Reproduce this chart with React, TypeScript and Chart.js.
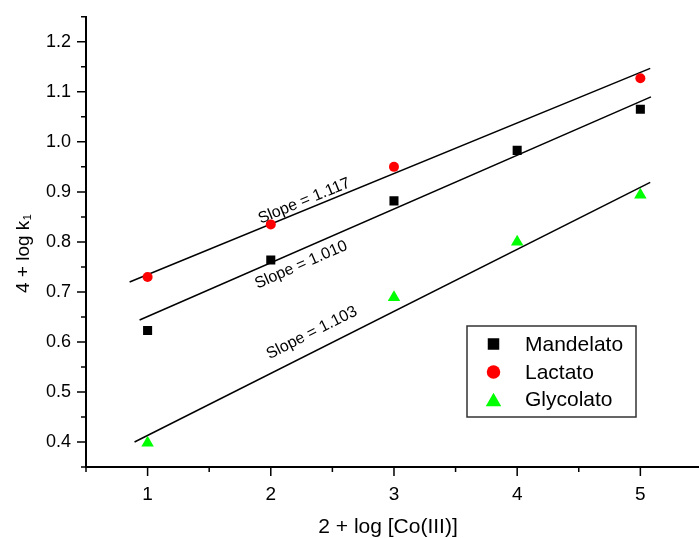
import React, { useEffect, useRef } from "react";
import { Chart, registerables } from "chart.js";

Chart.register(...registerables);

// ---- data ----
const mandelatoX = [1, 2, 3, 4, 5];
const mandelatoY = [0.623, 0.764, 0.882, 0.983, 1.065];
const lactatoX = [1, 2, 3, 5];
const lactatoY = [0.73, 0.835, 0.95, 1.127];
const glycolatoX = [1, 3, 4, 5];
const glycolatoY = [0.398, 0.689, 0.8, 0.894];

const mandelatoFitX = [0.935, 5.086];
const mandelatoFitY = [0.6438, 1.0898];
const lactatoFitX = [0.854, 5.08];
const lactatoFitY = [0.7197, 1.147];
const glycolatoFitX = [0.894, 5.08];
const glycolatoFitY = [0.4, 0.919];

const seriesNames = ["Mandelato", "Lactato", "Glycolato"];
const slopeLabels = ["Slope = 1.117", "Slope = 1.010", "Slope = 1.103"];
const slopeLabelX = [2.272, 2.246, 2.333];
const slopeLabelY = [0.8817, 0.754, 0.618];

const xMajorTicks = [1, 2, 3, 4, 5];
const xMinorTicks = [0.5, 1.5, 2.5, 3.5, 4.5, 5.5];
const yMajorTicks = [0.4, 0.5, 0.6, 0.7, 0.8, 0.9, 1.0, 1.1, 1.2];
const yMinorTicks = [0.35, 0.45, 0.55, 0.65, 0.75, 0.85, 0.95, 1.05, 1.15, 1.25];

const xTitle = "2 + log [Co(III)]";
const yTitleMain = "4 + log k";
const yTitleSub = "1";

const FONT = "'Liberation Sans', Arial, Helvetica, sans-serif";

const zip = (xs: number[], ys: number[]) => xs.map((x, i) => ({ x, y: ys[i] }));

function drawMarker(ctx: CanvasRenderingContext2D, kind: number, x: number, y: number, s: number) {
  ctx.beginPath();
  if (kind === 0) {
    ctx.fillStyle = "#000000";
    ctx.rect(x - s / 2, y - s / 2, s, s);
  } else if (kind === 1) {
    ctx.fillStyle = "#ff0000";
    ctx.arc(x, y, s / 2, 0, Math.PI * 2);
  } else {
    ctx.fillStyle = "#00ff00";
    const h = s * 0.87;
    ctx.moveTo(x, y - h / 2);
    ctx.lineTo(x + s / 2, y + h / 2);
    ctx.lineTo(x - s / 2, y + h / 2);
    ctx.closePath();
  }
  ctx.fill();
}

const extrasPlugin = {
  id: "extras",
  afterDraw(chart: any) {
    const ctx: CanvasRenderingContext2D = chart.ctx;
    const xs = chart.scales.x;
    const ys = chart.scales.y;
    const ca = chart.chartArea;
    ctx.save();
    // ticks
    ctx.strokeStyle = "#000";
    ctx.lineWidth = 1.5;
    ctx.beginPath();
    yMajorTicks.forEach((v) => {
      const p = ys.getPixelForValue(v);
      ctx.moveTo(ca.left - 9, p);
      ctx.lineTo(ca.left, p);
    });
    yMinorTicks.forEach((v) => {
      const p = ys.getPixelForValue(v);
      ctx.moveTo(ca.left - 5, p);
      ctx.lineTo(ca.left, p);
    });
    xMajorTicks.forEach((v) => {
      const p = xs.getPixelForValue(v);
      ctx.moveTo(p, ca.bottom);
      ctx.lineTo(p, ca.bottom + 9);
    });
    xMinorTicks.forEach((v) => {
      const p = xs.getPixelForValue(v);
      if (p <= ca.right + 1) {
        ctx.moveTo(p, ca.bottom);
        ctx.lineTo(p, ca.bottom + 5);
      }
    });
    ctx.stroke();

    // x title
    ctx.fillStyle = "#000";
    ctx.font = `21px ${FONT}`;
    ctx.textAlign = "center";
    ctx.textBaseline = "alphabetic";
    ctx.fillText(xTitle, 388, 533);

    // y title
    ctx.save();
    ctx.translate(29, 293);
    ctx.rotate(-Math.PI / 2);
    ctx.textAlign = "left";
    ctx.font = `19px ${FONT}`;
    ctx.fillText(yTitleMain, 0, 0);
    const w = ctx.measureText(yTitleMain).width;
    ctx.font = `11px ${FONT}`;
    ctx.fillText(yTitleSub, w + 0.5, 1.5);
    ctx.restore();

    // slope labels
    const fits = [
      [lactatoFitX, lactatoFitY],
      [mandelatoFitX, mandelatoFitY],
      [glycolatoFitX, glycolatoFitY],
    ];
    ctx.font = `16px ${FONT}`;
    ctx.textAlign = "center";
    ctx.textBaseline = "middle";
    slopeLabels.forEach((t, i) => {
      const [fx, fy] = fits[i];
      const x1 = xs.getPixelForValue(fx[0]);
      const y1 = ys.getPixelForValue(fy[0]);
      const x2 = xs.getPixelForValue(fx[1]);
      const y2 = ys.getPixelForValue(fy[1]);
      const ang = Math.atan2(y2 - y1, x2 - x1);
      const px = xs.getPixelForValue(slopeLabelX[i]);
      const py = ys.getPixelForValue(slopeLabelY[i]);
      ctx.save();
      ctx.translate(px, py);
      ctx.rotate(ang);
      ctx.fillText(t, 0, 0);
      ctx.restore();
    });

    // legend
    ctx.fillStyle = "#fff";
    ctx.fillRect(467, 326, 169, 91);
    ctx.strokeStyle = "#333";
    ctx.lineWidth = 1.5;
    ctx.strokeRect(467, 326, 169, 91);
    const rowsY = [344, 372, 399.5];
    const sizes = [11.5, 13.5, 15.5];
    seriesNames.forEach((n, i) => {
      drawMarker(ctx, i, 493.5, rowsY[i], sizes[i]);
      ctx.fillStyle = "#000";
      ctx.font = `21px ${FONT}`;
      ctx.textAlign = "left";
      ctx.textBaseline = "middle";
      ctx.fillText(n, 525, rowsY[i] + 1);
    });
    ctx.restore();
  },
};

export default function App() {
  const ref = useRef<HTMLCanvasElement | null>(null);
  useEffect(() => {
    if (!ref.current) return;
    Chart.defaults.font.family = FONT;
    Chart.defaults.color = "#000";
    const chart = new Chart(ref.current, {
      type: "scatter",
      data: {
        datasets: [
          {
            label: seriesNames[0],
            data: zip(mandelatoX, mandelatoY),
            pointStyle: "rect",
            pointRadius: 6.4,
            backgroundColor: "#000000",
            borderWidth: 0,
          },
          {
            label: seriesNames[1],
            data: zip(lactatoX, lactatoY),
            pointStyle: "circle",
            pointRadius: 5,
            backgroundColor: "#ff0000",
            borderWidth: 0,
          },
          {
            label: seriesNames[2],
            data: zip(glycolatoX, glycolatoY),
            pointStyle: "triangle",
            pointRadius: 7.2,
            backgroundColor: "#00ff00",
            borderWidth: 0,
          },
          {
            label: "fitM",
            data: zip(mandelatoFitX, mandelatoFitY),
            showLine: true,
            pointRadius: 0,
            borderColor: "#000",
            borderWidth: 1.5,
          },
          {
            label: "fitL",
            data: zip(lactatoFitX, lactatoFitY),
            showLine: true,
            pointRadius: 0,
            borderColor: "#000",
            borderWidth: 1.5,
          },
          {
            label: "fitG",
            data: zip(glycolatoFitX, glycolatoFitY),
            showLine: true,
            pointRadius: 0,
            borderColor: "#000",
            borderWidth: 1.5,
          },
        ],
      },
      options: {
        responsive: false,
        animation: false,
        devicePixelRatio: 1,
        layout: { autoPadding: false, padding: { top: 13, right: 0, left: 0, bottom: 0 } },
        plugins: {
          legend: { display: false },
          tooltip: { enabled: false },
        },
        scales: {
          x: {
            type: "linear",
            min: 0.5,
            max: 5.476,
            afterBuildTicks: (s: any) => {
              s.ticks = xMajorTicks.map((v) => ({ value: v }));
            },
            afterFit: (s: any) => {
              s.height = 71;
            },
            grid: { display: true, drawOnChartArea: false, drawTicks: true, tickLength: 9, color: "rgba(0,0,0,0)" },
            border: { display: true, color: "#000", width: 2 },
            ticks: {
              font: { size: 19, family: FONT },
              color: "#000",
              padding: 7,
              maxRotation: 0,
              callback: (v: any) => String(v),
            },
          },
          y: {
            type: "linear",
            min: 0.35,
            max: 1.25,
            afterBuildTicks: (s: any) => {
              s.ticks = yMajorTicks.map((v) => ({ value: v }));
            },
            afterFit: (s: any) => {
              s.width = 86;
            },
            grid: { display: true, drawOnChartArea: false, drawTicks: true, tickLength: 9, color: "rgba(0,0,0,0)" },
            border: { display: true, color: "#000", width: 2 },
            ticks: {
              font: { size: 18, family: FONT },
              color: "#000",
              padding: 6,
              callback: (v: any) => Number(v).toFixed(1),
            },
          },
        },
      },
      plugins: [extrasPlugin],
    } as any);
    return () => chart.destroy();
  }, []);
  return (
    <div style={{ position: "absolute", left: 0, top: 0, width: 699, height: 538, background: "#fff" }}>
      <canvas ref={ref} width={699} height={538} style={{ width: 699, height: 538, display: "block" }} />
    </div>
  );
}
